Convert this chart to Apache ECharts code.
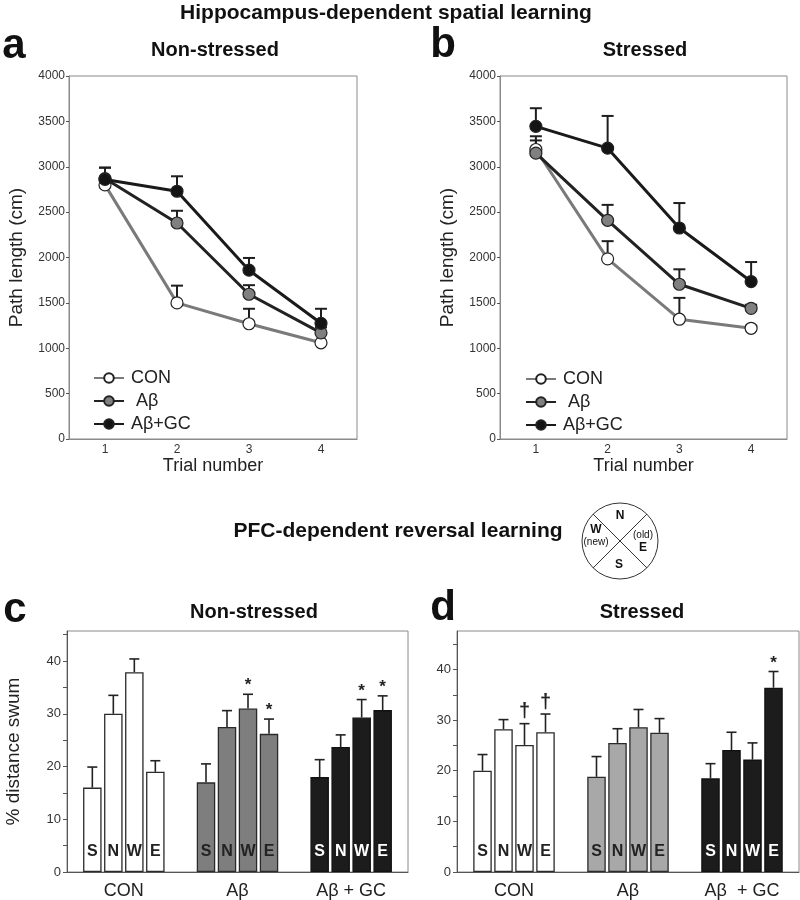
<!DOCTYPE html>
<html><head><meta charset="utf-8">
<script src="https://cdn.jsdelivr.net/npm/echarts@6/dist/echarts.min.js"></script>
<style>html,body{margin:0;padding:0;background:#fff}#main{width:800px;height:900px}</style>
</head><body><div id="main"></div>
<script>
// ---------- data ----------
const trials = ['1', '2', '3', '4'];
const lineNames = ['CON', ' Aβ', 'Aβ+GC'];
// panel a (non-stressed)
const aCON = [2800, 1500, 1270, 1060], aCONerr = [40, 190, 165, 20];
const aAB  = [2870, 2380, 1595, 1170], aABerr  = [120, 135, 100, 60];
const aGC  = [2860, 2730, 1860, 1275], aGCerr  = [130, 165, 135, 160];
// panel b (stressed)
const bCON = [3190, 1985, 1320, 1220], bCONerr = [146, 195, 235, 30];
const bAB  = [3150, 2410, 1705, 1440], bABerr  = [140, 170, 165, 40];
const bGC  = [3445, 3205, 2325, 1735], bGCerr  = [200, 355, 275, 215];

const dirs = ['S', 'N', 'W', 'E'];
const cGroups = ['CON', 'Aβ', 'Aβ + GC'];
const dGroups = ['CON', 'Aβ', 'Aβ  + GC'];
// panel c (non-stressed), values per group in order S,N,W,E
const cCON = [16.0, 30.0, 37.9, 19.0], cCONerr = [3.9, 3.5, 2.5, 2.1];
const cAB  = [17.0, 27.5, 31.0, 26.2], cABerr  = [3.5, 3.1, 2.7, 2.8];
const cGC  = [18.0, 23.7, 29.3, 30.7], cGCerr  = [3.3, 2.3, 3.4, 2.7];
const cMarks = [['', '', '', ''], ['', '', '*', '*'], ['', '', '*', '*']];
// panel d (stressed)
const dCON = [20.0, 28.2, 25.1, 27.6], dCONerr = [3.2, 1.9, 4.2, 3.6];
const dAB  = [18.8, 25.5, 28.6, 27.5], dABerr  = [4.0, 2.8, 3.5, 2.8];
const dGC  = [18.5, 24.1, 22.2, 36.4], dGCerr  = [2.9, 3.5, 3.3, 3.2];
const dMarks = [['', '', '†', '†'], ['', '', '', ''], ['', '', '', '*']];

// ---------- styles ----------
const FONT = 'Liberation Sans, Arial, sans-serif';
const BOX = '#8a8a8a';
const DARK = '#1e1e1e';
const BAR_W = 18.5, BAR_GAP = 2.5;

const chart = echarts.init(document.getElementById('main'));

const lineStyles = [
  { line: '#7a7a7a', fill: '#ffffff' },
  { line: '#222222', fill: '#808080' },
  { line: '#1a1a1a', fill: '#141414' }
];

function lineSer(k, name, data, gi) {
  return {
    type: 'line', name: name, xAxisIndex: gi, yAxisIndex: gi, data: data,
    symbol: 'circle', symbolSize: 12, z: 4,
    lineStyle: { color: lineStyles[k].line, width: 3 },
    itemStyle: { color: lineStyles[k].fill, borderColor: '#222', borderWidth: 1.2 },
    emphasis: { disabled: true }
  };
}
function lineErr(data, err, gi) {
  return {
    type: 'custom', xAxisIndex: gi, yAxisIndex: gi, z: 2, silent: true,
    data: data.map((v, i) => [i, v, err[i]]),
    renderItem: function (params, api) {
      const p0 = api.coord([api.value(0), api.value(1)]);
      const p1 = api.coord([api.value(0), api.value(1) + api.value(2)]);
      return { type: 'group', children: [
        { type: 'line', shape: { x1: p0[0], y1: p0[1], x2: p1[0], y2: p1[1] }, style: { stroke: DARK, lineWidth: 2 } },
        { type: 'line', shape: { x1: p1[0] - 6, y1: p1[1], x2: p1[0] + 6, y2: p1[1] }, style: { stroke: DARK, lineWidth: 2 } }
      ] };
    }
  };
}

function barSeries(gi, groupsVals, groupColors, labelColors) {
  return dirs.map((d, j) => ({
    type: 'bar', name: d, xAxisIndex: gi, yAxisIndex: gi,
    barWidth: BAR_W, barGap: (BAR_GAP / BAR_W * 100) + '%', z: 3,
    data: groupsVals.map((vals, g) => ({
      value: vals[j],
      itemStyle: { color: groupColors[g], borderColor: g === 2 ? '#111' : '#2a2a2a', borderWidth: 1.3 },
      label: { color: labelColors[g] }
    })),
    label: { show: true, position: 'insideBottom', distance: 12, formatter: d,
             fontFamily: FONT, fontWeight: 'bold', fontSize: 16 },
    emphasis: { disabled: true }
  }));
}
function barErr(gi, groupsVals, groupsErr, marks) {
  const data = [];
  groupsVals.forEach((vals, g) => vals.forEach((v, j) => data.push([g, v, groupsErr[g][j], j])));
  return {
    type: 'custom', xAxisIndex: gi, yAxisIndex: gi, z: 5, silent: true, data: data,
    renderItem: function (params, api) {
      const g = api.value(0), j = api.value(3);
      const off = (j - 1.5) * (BAR_W + BAR_GAP);
      const p0 = api.coord([g, api.value(1)]);
      const p1 = api.coord([g, api.value(1) + api.value(2)]);
      const x = p0[0] + off;
      const ch = [
        { type: 'line', shape: { x1: x, y1: p0[1], x2: x, y2: p1[1] }, style: { stroke: '#222', lineWidth: 1.6 } },
        { type: 'line', shape: { x1: x - 5, y1: p1[1], x2: x + 5, y2: p1[1] }, style: { stroke: '#222', lineWidth: 1.6 } }
      ];
      const m = marks[g][j];
      if (m) {
        ch.push({ type: 'text', style: { text: m, x: x, y: p1[1] - (m === '*' ? 0 : 2), align: 'center', verticalAlign: 'bottom',
          font: (m === '*' ? 'bold 17px ' : 'bold 20px ') + FONT, fill: '#222' } });
      }
      return { type: 'group', children: ch };
    }
  };
}

function gridBox(left, top, width, height) {
  return { left: left, top: top, width: width, height: height, show: true, borderColor: BOX, borderWidth: 1, backgroundColor: 'transparent' };
}
function pathY(gi) {
  return {
    type: 'value', gridIndex: gi, min: 0, max: 4000, interval: 500,
    name: 'Path length (cm)', nameLocation: 'middle', nameGap: 43,
    nameTextStyle: { fontFamily: FONT, fontSize: 19, color: '#222' },
    axisLine: { show: true, lineStyle: { color: BOX } },
    axisTick: { show: true, length: 3, lineStyle: { color: '#555' } },
    axisLabel: { fontFamily: FONT, fontSize: 12, color: '#333', margin: 4, formatter: v => String(v) },
    splitLine: { show: false }
  };
}
function trialX(gi) {
  return {
    type: 'category', gridIndex: gi, data: trials, boundaryGap: true,
    name: 'Trial number', nameLocation: 'middle', nameGap: 18,
    nameTextStyle: { fontFamily: FONT, fontSize: 18, color: '#222' },
    axisLine: { show: true, lineStyle: { color: BOX } },
    axisTick: { show: false },
    axisLabel: { fontFamily: FONT, fontSize: 12, color: '#333', margin: 5 }
  };
}
function pctY(gi, max, named) {
  return {
    type: 'value', gridIndex: gi, min: 0, max: max, interval: 5,
    name: named ? '% distance swum' : '', nameLocation: 'middle', nameGap: 44,
    nameTextStyle: { fontFamily: FONT, fontSize: 19, color: '#222' },
    axisLine: { show: true, lineStyle: { color: '#555' } },
    axisTick: { show: true, length: 4, lineStyle: { color: '#555' } },
    axisLabel: { fontFamily: FONT, fontSize: 13, color: '#333', margin: 6, showMaxLabel: false,
                 formatter: v => (v % 10 === 0 ? String(v) : '') },
    splitLine: { show: false }
  };
}
function groupX(gi, cats) {
  return {
    type: 'category', gridIndex: gi, data: cats, boundaryGap: true,
    axisLine: { show: true, lineStyle: { color: '#555' } },
    axisTick: { show: false },
    axisLabel: { fontFamily: FONT, fontSize: 18, color: '#222', margin: 10 }
  };
}

function txt(text, x, y, font, align) {
  return { type: 'text', style: { text: text, x: x, y: y, font: font, fill: '#111', align: align || 'center', verticalAlign: 'middle' } };
}

const compass = {
  type: 'group', children: [
    { type: 'circle', shape: { cx: 620, cy: 541, r: 38 }, style: { fill: '#fff', stroke: '#333', lineWidth: 1 } },
    { type: 'line', shape: { x1: 593, y1: 514, x2: 647, y2: 568 }, style: { stroke: '#333', lineWidth: 1 } },
    { type: 'line', shape: { x1: 647, y1: 514, x2: 593, y2: 568 }, style: { stroke: '#333', lineWidth: 1 } },
    txt('N', 620, 516, 'bold 12px ' + FONT),
    txt('S', 619, 565, 'bold 12px ' + FONT),
    txt('W', 596, 530, 'bold 12px ' + FONT),
    txt('(new)', 596, 542, '10px ' + FONT),
    txt('(old)', 643, 535, '10px ' + FONT),
    txt('E', 643, 548, 'bold 12px ' + FONT)
  ]
};

const option = {
  animation: false,
  backgroundColor: '#ffffff',
  grid: [
    gridBox(69, 76, 288, 363),
    gridBox(500, 76, 287, 363),
    gridBox(67, 631, 341, 242),
    gridBox(457, 631, 342, 241)
  ],
  xAxis: [trialX(0), trialX(1), groupX(2, cGroups), groupX(3, dGroups)],
  yAxis: [pathY(0), pathY(1), pctY(2, 45.7, true), pctY(3, 47.6, false)],
  legend: [
    { left: 88, top: 364, orient: 'vertical', itemWidth: 30, itemHeight: 12, itemGap: 5,
      data: lineNames, selectedMode: false,
      textStyle: { fontFamily: FONT, fontSize: 18, color: '#222', padding: [0, 0, 0, 2] } },
    { left: 520, top: 365, orient: 'vertical', itemWidth: 30, itemHeight: 12, itemGap: 5,
      data: lineNames, selectedMode: false,
      textStyle: { fontFamily: FONT, fontSize: 18, color: '#222', padding: [0, 0, 0, 2] } }
  ],
  graphic: [
    txt('Hippocampus-dependent spatial learning', 386, 13, 'bold 21px ' + FONT),
    txt('a', 14, 46, 'bold 42px ' + FONT),
    txt('Non-stressed', 215, 50, 'bold 20px ' + FONT),
    txt('b', 443, 45, 'bold 42px ' + FONT),
    txt('Stressed', 645, 50, 'bold 20px ' + FONT),
    txt('PFC-dependent reversal learning', 398, 531, 'bold 21px ' + FONT),
    compass,
    txt('c', 15, 610, 'bold 42px ' + FONT),
    txt('Non-stressed', 254, 612, 'bold 20px ' + FONT),
    txt('d', 443, 608, 'bold 42px ' + FONT),
    txt('Stressed', 642, 612, 'bold 20px ' + FONT)
  ],
  series: [
    lineErr(aCON, aCONerr, 0), lineErr(aAB, aABerr, 0), lineErr(aGC, aGCerr, 0),
    lineSer(0, lineNames[0], aCON, 0), lineSer(1, lineNames[1], aAB, 0), lineSer(2, lineNames[2], aGC, 0),
    lineErr(bCON, bCONerr, 1), lineErr(bAB, bABerr, 1), lineErr(bGC, bGCerr, 1),
    lineSer(0, lineNames[0], bCON, 1), lineSer(1, lineNames[1], bAB, 1), lineSer(2, lineNames[2], bGC, 1),
    ...barSeries(2, [cCON, cAB, cGC], ['#ffffff', '#7e7e7e', '#1c1c1c'], ['#222', '#222', '#ffffff']),
    barErr(2, [cCON, cAB, cGC], [cCONerr, cABerr, cGCerr], cMarks),
    ...barSeries(3, [dCON, dAB, dGC], ['#ffffff', '#a8a8a8', '#1c1c1c'], ['#222', '#222', '#ffffff']),
    barErr(3, [dCON, dAB, dGC], [dCONerr, dABerr, dGCerr], dMarks)
  ]
};
chart.setOption(option);
</script>
</body></html>
